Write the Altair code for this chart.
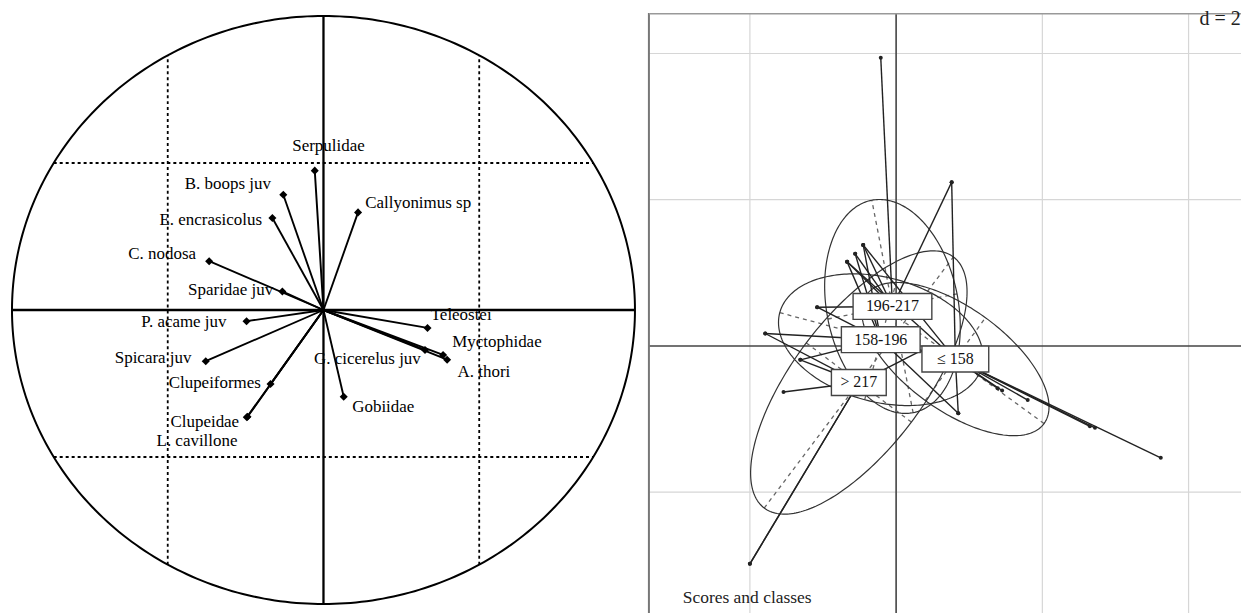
import altair as alt
import pandas as pd
import numpy as np

# ---------------- Left panel: correlation circle ----------------
var_names = ["Serpulidae", "B. boops juv", "E. encrasicolus", "C. nodosa", "Sparidae juv",
             "P. acame juv", "Spicara juv", "Clupeiformes", "Clupeidae", "L. cavillone",
             "Callyonimus sp", "Teleostei", "Myctophidae", "G. cicerelus juv", "A. thori", "Gobiidae"]
var_x = [-0.028, -0.129, -0.164, -0.367, -0.132, -0.247, -0.378, -0.170, -0.244, -0.246,
         0.111, 0.334, 0.384, 0.326, 0.397, 0.065]
var_y = [0.474, 0.392, 0.313, 0.166, 0.063, -0.038, -0.174, -0.252, -0.363, -0.365,
         0.332, -0.061, -0.153, -0.136, -0.169, -0.295]
lab_x = [0.016, -0.307, -0.362, -0.518, -0.298, -0.448, -0.547, -0.349, -0.381, -0.406,
         0.304, 0.442, 0.557, 0.141, 0.515, 0.192]
lab_y = [0.559, 0.427, 0.305, 0.190, 0.068, -0.041, -0.163, -0.247, -0.380, -0.444,
         0.363, -0.017, -0.108, -0.166, -0.210, -0.329]
grid_cor = [-0.5, 0.5]

# ---------------- Right panel: scores and classes ----------------
class_names = ["≤ 158", "158-196", "196-217", "> 217"]
class_x = [0.81, -0.21, -0.05, -0.51]
class_y = [-0.18, 0.085, 0.54, -0.50]
ell_a = [1.5, 1.43, 1.48, 2.15]
ell_b = [0.7, 0.85, 0.9, 0.9]
ell_angle = [-36, -15, 101, 53]

pt_x = [3.62, 2.72, 1.80, 1.39, 1.45, 0.85, 0.76, 2.65, -0.67, -0.45,
        -0.21, 0.76, -0.67, -0.56, -0.45, -1.08,
        -1.79, -1.08, -0.45, -0.67, 0.85, -1.31, -0.56,
        -2.0, -2.0, -1.54, -1.79, -1.31, 0.33]
pt_y = [-1.53, -1.12, -0.74, -0.58, -0.61, -0.92, 2.24, -1.10, 1.15, 1.38,
        3.94, 2.24, 1.15, 1.26, 1.38, 0.53,
        0.17, 0.53, 1.38, 1.15, -0.92, -0.19, 1.26,
        -2.98, -2.98, -0.63, 0.17, -0.19, -0.07]
pt_class = ["≤ 158"] * 10 + ["196-217"] * 6 + ["158-196"] * 7 + ["> 217"] * 6
score_grid_x = [-2, 2, 4]
score_grid_y = [4, 2, -2]

FONT = "Liberation Serif"

# ---------- build left panel ----------
LX = alt.Scale(domain=[-1.0032, 1.0192], nice=False, zero=False)
LY = alt.Scale(domain=[-1.0408, 1.0102], nice=False, zero=False)

t = np.linspace(0, 2 * np.pi, 361)
circ = pd.DataFrame({"x": np.cos(t), "y": np.sin(t), "i": np.arange(len(t))})
circle = alt.Chart(circ).mark_line(color="black", strokeWidth=2).encode(
    x=alt.X("x:Q", scale=LX, axis=None), y=alt.Y("y:Q", scale=LY, axis=None), order="i:Q")

g = pd.DataFrame({"v": grid_cor})
g["lo"] = -np.sqrt(1 - g["v"] ** 2)
g["hi"] = np.sqrt(1 - g["v"] ** 2)
vdash = alt.Chart(g).mark_rule(color="black", strokeWidth=1.8, strokeDash=[3, 3]).encode(
    x=alt.X("v:Q", scale=LX, axis=None), y=alt.Y("lo:Q", scale=LY, axis=None), y2="hi:Q")
hdash = alt.Chart(g).mark_rule(color="black", strokeWidth=1.8, strokeDash=[3, 3]).encode(
    y=alt.Y("v:Q", scale=LY, axis=None), x=alt.X("lo:Q", scale=LX, axis=None), x2="hi:Q")

ax = pd.DataFrame({"z": [0.0], "lo": [-1.0], "hi": [1.0]})
vax = alt.Chart(ax).mark_rule(color="black", strokeWidth=2.3).encode(
    x=alt.X("z:Q", scale=LX, axis=None), y=alt.Y("lo:Q", scale=LY, axis=None), y2="hi:Q")
hax = alt.Chart(ax).mark_rule(color="black", strokeWidth=2.3).encode(
    y=alt.Y("z:Q", scale=LY, axis=None), x=alt.X("lo:Q", scale=LX, axis=None), x2="hi:Q")

vdf = pd.DataFrame({"name": var_names, "x": var_x, "y": var_y, "lx": lab_x, "ly": lab_y,
                    "o": 0.0})
arrows = alt.Chart(vdf).mark_rule(color="black", strokeWidth=1.9).encode(
    x=alt.X("o:Q", scale=LX, axis=None), y=alt.Y("o:Q", scale=LY, axis=None),
    x2="x:Q", y2="y:Q")
tips = alt.Chart(vdf).mark_point(shape="diamond", filled=True, color="black", size=65,
                                 opacity=1).encode(
    x=alt.X("x:Q", scale=LX, axis=None), y=alt.Y("y:Q", scale=LY, axis=None))
labels = alt.Chart(vdf).mark_text(font=FONT, fontSize=17, color="black", align="center",
                                  baseline="middle").encode(
    x=alt.X("lx:Q", scale=LX, axis=None), y=alt.Y("ly:Q", scale=LY, axis=None), text="name:N")

left = alt.layer(vdash, hdash, vax, hax, circle, arrows, tips, labels).properties(
    width=632, height=605)

# ---------- build right panel ----------
RW = 594
RX = alt.Scale(domain=[-3.381, -3.381 + RW / 73.35], nice=False, zero=False)
RY = alt.Scale(domain=[-3.694, 4.554], nice=False, zero=False)

gx = alt.Chart(pd.DataFrame({"v": score_grid_x})).mark_rule(color="#d6d6d6", strokeWidth=1.2).encode(
    x=alt.X("v:Q", scale=RX, axis=None))
gy = alt.Chart(pd.DataFrame({"v": score_grid_y})).mark_rule(color="#d6d6d6", strokeWidth=1.2).encode(
    y=alt.Y("v:Q", scale=RY, axis=None))
axes0 = pd.DataFrame({"v": [0.0]})
ax_x = alt.Chart(axes0).mark_rule(color="#444", strokeWidth=1.6).encode(
    x=alt.X("v:Q", scale=RX, axis=None))
ax_y = alt.Chart(axes0).mark_rule(color="#444", strokeWidth=1.6).encode(
    y=alt.Y("v:Q", scale=RY, axis=None))
frame_df = pd.DataFrame({"xmin": [RX.domain[0]], "ymax": [RY.domain[1] - 0.01]})
frame_l = alt.Chart(frame_df).mark_rule(color="#777", strokeWidth=2).encode(
    x=alt.X("xmin:Q", scale=RX, axis=None))
frame_t = alt.Chart(frame_df).mark_rule(color="#999", strokeWidth=1.5).encode(
    y=alt.Y("ymax:Q", scale=RY, axis=None))

# ellipses and their axes
te = np.linspace(0, 2 * np.pi, 241)
erows, arows = [], []
for name, cx, cy, a, b, ang in zip(class_names, class_x, class_y, ell_a, ell_b, ell_angle):
    th = np.deg2rad(ang)
    ex = cx + a * np.cos(te) * np.cos(th) - b * np.sin(te) * np.sin(th)
    ey = cy + a * np.cos(te) * np.sin(th) + b * np.sin(te) * np.cos(th)
    erows.append(pd.DataFrame({"cls": name, "x": ex, "y": ey, "i": np.arange(len(te))}))
    ux, uy = np.cos(th), np.sin(th)
    arows.append({"cls": name, "x1": cx - a * ux, "y1": cy - a * uy, "x2": cx + a * ux, "y2": cy + a * uy})
    arows.append({"cls": name, "x1": cx + b * uy, "y1": cy - b * ux, "x2": cx - b * uy, "y2": cy + b * ux})
edf = pd.concat(erows, ignore_index=True)
adf = pd.DataFrame(arows)
ell = alt.Chart(edf).mark_line(color="#333", strokeWidth=1.2).encode(
    x=alt.X("x:Q", scale=RX, axis=None), y=alt.Y("y:Q", scale=RY, axis=None),
    detail="cls:N", order="i:Q")
ell_axes = alt.Chart(adf).mark_rule(color="#666", strokeWidth=1.3, strokeDash=[4, 4]).encode(
    x=alt.X("x1:Q", scale=RX, axis=None), y=alt.Y("y1:Q", scale=RY, axis=None),
    x2="x2:Q", y2="y2:Q")

cdf = pd.DataFrame({"cls": class_names, "cx": class_x, "cy": class_y})
pdf = pd.DataFrame({"x": pt_x, "y": pt_y, "cls": pt_class}).merge(cdf, on="cls")
stars = alt.Chart(pdf).mark_rule(color="#222", strokeWidth=1.4).encode(
    x=alt.X("x:Q", scale=RX, axis=None), y=alt.Y("y:Q", scale=RY, axis=None),
    x2="cx:Q", y2="cy:Q")
dots = alt.Chart(pdf).mark_circle(color="#222", size=16, opacity=1).encode(
    x=alt.X("x:Q", scale=RX, axis=None), y=alt.Y("y:Q", scale=RY, axis=None))

box_w = {"≤ 158": 67, "158-196": 79, "196-217": 79, "> 217": 55}
box_layers = []
for name in class_names:
    w = box_w[name]
    h = 26.0 / w
    path = f"M-1,{-h:.4f} L1,{-h:.4f} L1,{h:.4f} L-1,{h:.4f} Z"
    box_layers.append(
        alt.Chart(cdf[cdf["cls"] == name]).mark_point(
            shape=path, size=w * w, filled=True, fill="white", stroke="#444",
            strokeWidth=1.4, opacity=1, fillOpacity=1).encode(
            x=alt.X("cx:Q", scale=RX, axis=None), y=alt.Y("cy:Q", scale=RY, axis=None)))
ctext = alt.Chart(cdf).mark_text(font=FONT, fontSize=16, color="#111", align="center",
                                 baseline="middle").encode(
    x=alt.X("cx:Q", scale=RX, axis=None), y=alt.Y("cy:Q", scale=RY, axis=None), text="cls:N")

notes = pd.DataFrame({"x": [RX.domain[1] - 0.005], "y": [4.47], "t": ["d = 2"]})
dtext = alt.Chart(notes).mark_text(font=FONT, fontSize=20, color="#222", align="right",
                                   baseline="middle").encode(
    x=alt.X("x:Q", scale=RX, axis=None), y=alt.Y("y:Q", scale=RY, axis=None), text="t:N")
sub = pd.DataFrame({"x": [-2.918], "y": [-3.442], "t": ["Scores and classes"]})
stext = alt.Chart(sub).mark_text(font=FONT, fontSize=17.5, color="#222", align="left",
                                 baseline="middle").encode(
    x=alt.X("x:Q", scale=RX, axis=None), y=alt.Y("y:Q", scale=RY, axis=None), text="t:N")

right = alt.layer(gx, gy, ax_x, ax_y, frame_l, frame_t, ell_axes, ell, stars, dots,
                  *box_layers, ctext, dtext, stext).properties(width=RW, height=605)

chart = alt.hconcat(left, right, spacing=8, bounds="flush").properties(
    padding=0).configure_view(stroke=None)

chart.save("out.html", embed_options={"renderer": "svg", "actions": False})
